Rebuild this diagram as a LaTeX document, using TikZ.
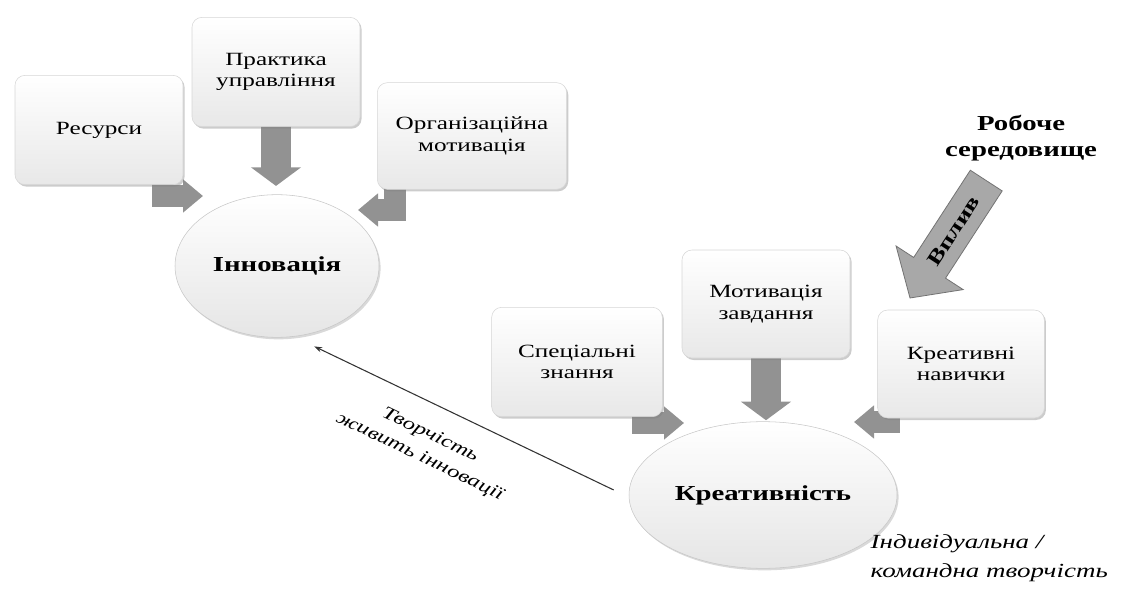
\documentclass[tikz,border=0pt]{standalone}
\usepackage{fontspec}
\setmainfont{Liberation Serif}[FakeStretch=1.35]
\usetikzlibrary{arrows.meta,shadows,shapes.geometric,backgrounds}

\definecolor{arrowgray}{RGB}{146,146,146}
\definecolor{vplyvgray}{RGB}{168,168,168}

\tikzset{
  factor/.style={rounded corners=7.5pt, draw=black!16, top color=white, bottom color=black!9,
    drop shadow={opacity=0.4, shadow xshift=1.2pt, shadow yshift=-1.5pt},
    minimum width=126pt, minimum height=82pt, align=center, font=\fontsize{14}{16}\selectfont},
  outcome/.style={ellipse, draw=black!22, top color=white, bottom color=black!10,
    drop shadow={opacity=0.3, shadow xshift=1.2pt, shadow yshift=-1.5pt},
    inner sep=0pt, font=\fontsize{16}{19}\selectfont\bfseries},
  sidearrow/.style={draw=arrowgray, line width=16.5pt, -{Triangle[width=24pt,length=15pt]}},
  downarrow/.style={draw=arrowgray, line width=23pt, -{Triangle[width=37pt,length=14pt]}},
  thinarrow/.style={draw=black!80, line width=0.8pt, -{Stealth[length=6pt,width=4pt]}},
  comment/.style={font=\fontsize{13.5}{18}\selectfont\itshape, align=center}
}

\begin{document}
\begin{tikzpicture}[x=0.75pt,y=-0.75pt]
\useasboundingbox (0,0) rectangle (1128,599);

\node[factor] (resursy) at (99,130) {Ресурси};
\node[factor] (praktyka) at (276,72) {Практика\\управління};
\node[factor, minimum width=142pt, minimum height=80pt] (orhan) at (472,136) {Організаційна\\мотивація};
\node[outcome, minimum width=153pt, minimum height=107pt] (innov) at (277,266) {Інновація};

\node[factor, minimum width=128pt] (spets) at (577,362) {Спеціальні\\знання};
\node[factor, minimum height=81pt] (motyv) at (766,304) {Мотивація\\завдання};
\node[factor, minimum width=125pt, minimum height=81pt] (kreat) at (961,364) {Креативні\\навички};
\node[outcome, minimum width=201pt, minimum height=110pt] (kreatyv) at (763,495) {Креативність};

\begin{scope}[on background layer]
\draw[sidearrow] ([shift={(-20,-20)}]resursy.south east) |- ([shift={(-74,-70)}]innov.center);
\draw[downarrow] ([shift={(0,-5)}]praktyka.south) -- ++(0,64);
\draw[sidearrow] ([shift={(18,-20)}]orhan.south west) |- ([shift={(81,-56)}]innov.center);
\draw[sidearrow] ([shift={(-20,-20)}]spets.south east) |- ([shift={(-79,-72)}]kreatyv.center);
\draw[downarrow] ([shift={(0,-5)}]motyv.south) -- ++(0,67);
\draw[sidearrow] ([shift={(12,-20)}]kreat.south west) |- ([shift={(91,-73)}]kreatyv.center);
\end{scope}

\node[font=\fontsize{16}{20}\selectfont\bfseries, align=center] (seredovyshche) at (1021,138) {Робоче\\середовище};

\begin{scope}[shift={(910,298)}, rotate=57]
\draw[fill=vplyvgray, draw=black!55, line width=0.6pt] (0,0) -- (36,40) -- (36,19) -- (140,19) -- (140,-19) -- (36,-19) -- (36,-40) -- cycle;
\node[rotate=57, font=\fontsize{15}{17}\selectfont\bfseries] (vplyv) at (80,0) {Вплив};
\end{scope}

\draw[thinarrow] ([shift={(-15,-5)}]kreatyv.west) -- ([shift={(12,11)}]innov.-70)
  node[comment, pos=0.57, sloped, below=13pt] {Творчість\\живить інновації};

\node[font=\fontsize{15}{22}\selectfont\itshape, align=left, anchor=north west] (komanda) at (866,530) {Індивідуальна /\\командна творчість};
\end{tikzpicture}
\end{document}
